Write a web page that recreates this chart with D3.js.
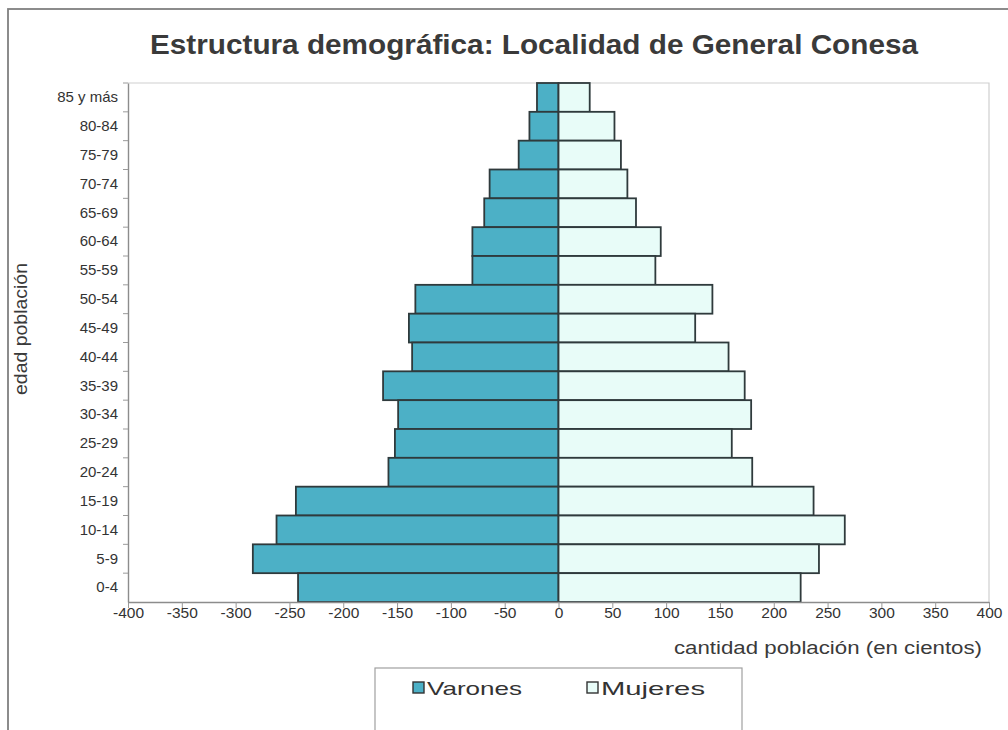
<!DOCTYPE html>
<html>
<head>
<meta charset="utf-8">
<script src="https://cdn.jsdelivr.net/npm/d3@7"></script>
<style>
  html, body { margin: 0; padding: 0; background: #fff; }
  svg { display: block; }
  text { font-family: "Liberation Sans", Arial, sans-serif; }
</style>
</head>
<body>
<svg id="chart" width="1008" height="730"></svg>
<script>
// ---- data (top to bottom, as in the picture) ----
const categories = ["85 y más","80-84","75-79","70-74","65-69","60-64","55-59","50-54","45-49","40-44","35-39","30-34","25-29","20-24","15-19","10-14","5-9","0-4"];
const varones = [20, 27, 37, 64, 69, 80, 80, 133, 139, 136, 163, 149, 152, 158, 244, 262, 284, 242];
const mujeres = [29, 52, 58, 64, 72, 95, 90, 143, 127, 158, 173, 179, 161, 180, 237, 266, 242, 225];
const xTicks = [-400,-350,-300,-250,-200,-150,-100,-50,0,50,100,150,200,250,300,350,400];
const seriesNames = ["Varones", "Mujeres"];
const seriesColors = ["#4cb0c6", "#e8fcf8"];
const titleText = "Estructura demográfica: Localidad de General Conesa";
const xTitle = "cantidad población (en cientos)";
const yTitle = "edad población";

const svg = d3.select("#chart");

// outer frame
svg.append("rect").attr("x", 8).attr("y", 9).attr("width", 1020).attr("height", 740)
  .attr("fill", "none").attr("stroke", "#808080").attr("stroke-width", 1.8);

const plot = {left: 128, right: 989, top: 83, bottom: 602};

const x = d3.scaleLinear().domain([-400, 400]).range([plot.left, plot.right]);
const y = d3.scaleBand().domain(categories).range([plot.top, plot.bottom]).padding(0);

// plot area border (top & right light)
svg.append("path")
  .attr("d", `M${plot.left},${plot.top}H${plot.right}V${plot.bottom}`)
  .attr("fill", "none").attr("stroke", "#cfcfcf").attr("stroke-width", 1.2);

// title
svg.append("text").attr("x", 534).attr("y", 54).attr("text-anchor", "middle")
  .attr("font-size", 27).attr("font-weight", "bold").attr("fill", "#3a3a3a")
  .attr("textLength", 768).attr("lengthAdjust", "spacingAndGlyphs")
  .text(titleText);

// bars
const rows = categories.map((c, i) => ({cat: c, v: varones[i], m: mujeres[i]}));
svg.append("g").selectAll("rect").data(rows).join("rect")
  .attr("x", d => x(-d.v)).attr("y", d => y(d.cat))
  .attr("width", d => x(0) - x(-d.v)).attr("height", y.bandwidth())
  .attr("fill", seriesColors[0]).attr("stroke", "#2f3a3c").attr("stroke-width", 1.8);
svg.append("g").selectAll("rect").data(rows).join("rect")
  .attr("x", x(0)).attr("y", d => y(d.cat))
  .attr("width", d => x(d.m) - x(0)).attr("height", y.bandwidth())
  .attr("fill", seriesColors[1]).attr("stroke", "#2f3a3c").attr("stroke-width", 1.8);

// bottom axis
const xAxis = d3.axisBottom(x).tickValues(xTicks).tickSize(6).tickSizeOuter(0).tickFormat(d => String(d));
const gx = svg.append("g").attr("transform", `translate(0,${plot.bottom})`).call(xAxis);
gx.select(".domain").attr("stroke", "#8c8c8c").attr("stroke-width", 1.4);
gx.selectAll(".tick line").attr("stroke", "#9a9a9a");
gx.selectAll(".tick text").attr("font-size", 15.5).attr("fill", "#333").attr("y", 4).attr("dy", "0.8em")
  .attr("font-family", "Liberation Sans, Arial, sans-serif");

// left axis (labels at band centres, ticks at boundaries)
const yAxis = d3.axisLeft(y).tickSize(0).tickPadding(10);
const gy = svg.append("g").attr("transform", `translate(${plot.left},0)`).call(yAxis);
gy.select(".domain").attr("stroke", "#8c8c8c").attr("stroke-width", 1.4);
gy.selectAll(".tick text").attr("font-size", 15).attr("fill", "#333")
  .attr("font-family", "Liberation Sans, Arial, sans-serif");
svg.append("g").selectAll("line").data(categories).join("line")
  .attr("x1", plot.left - 5).attr("x2", plot.left)
  .attr("y1", d => y(d)).attr("y2", d => y(d))
  .attr("stroke", "#9a9a9a");

// axis titles
svg.append("text").attr("x", 982).attr("y", 654).attr("text-anchor", "end")
  .attr("font-size", 17.5).attr("fill", "#3a3a3a")
  .attr("textLength", 308).attr("lengthAdjust", "spacingAndGlyphs").text(xTitle);
svg.append("text").attr("transform", "translate(27,329) rotate(-90)")
  .attr("text-anchor", "middle").attr("font-size", 18).attr("fill", "#3a3a3a")
  .attr("textLength", 132).attr("lengthAdjust", "spacingAndGlyphs").text(yTitle);

// legend
const lg = svg.append("g");
lg.append("rect").attr("x", 375).attr("y", 668).attr("width", 367).attr("height", 80)
  .attr("fill", "#fff").attr("stroke", "#a0a0a0").attr("stroke-width", 1.2);
const legendX = [413, 587];
const legendW = [95, 104];
seriesNames.forEach((name, i) => {
  lg.append("rect").attr("x", legendX[i]).attr("y", 682).attr("width", 11).attr("height", 11)
    .attr("fill", seriesColors[i]).attr("stroke", "#333").attr("stroke-width", 1.4);
  lg.append("text").attr("x", legendX[i] + 14).attr("y", 695)
    .attr("font-size", 19).attr("fill", "#333")
    .attr("textLength", legendW[i]).attr("lengthAdjust", "spacingAndGlyphs").text(name);
});
</script>
</body>
</html>
